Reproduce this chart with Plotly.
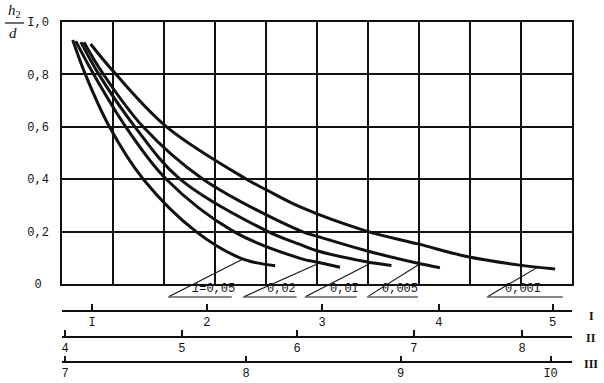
import numpy as np
import plotly.graph_objects as go

# ---------------- data ----------------
# x is measured in grid cells of the chart (0..10), y is h/d
slope_labels = ["<i>i</i>=0,05", "0,02", "0,0I", "0,005", "0,00I"]

x_005 = [0.21, 0.45, 0.93, 1.59, 2.63, 3.55, 4.18]
y_005 = [0.931, 0.804, 0.600, 0.401, 0.200, 0.095, 0.070]

x_002 = [0.27, 0.61, 1.25, 2.04, 3.37, 4.67, 5.06, 5.45]
y_002 = [0.927, 0.804, 0.600, 0.401, 0.200, 0.098, 0.081, 0.064]

x_001 = [0.37, 0.71, 1.43, 2.31, 4.04, 4.67, 5.00, 5.97, 6.46]
y_001 = [0.923, 0.804, 0.600, 0.401, 0.200, 0.151, 0.127, 0.085, 0.071]

x_0005 = [0.43, 0.80, 1.59, 2.76, 4.71, 5.06, 5.97, 6.98, 7.41]
y_0005 = [0.923, 0.804, 0.600, 0.401, 0.200, 0.179, 0.127, 0.079, 0.062]

x_0001 = [0.56, 1.04, 2.05, 3.61, 4.01, 4.67, 5.97, 6.98, 7.96, 8.94, 9.67]
y_0001 = [0.916, 0.804, 0.600, 0.401, 0.359, 0.294, 0.202, 0.153, 0.104, 0.073, 0.057]

y_tickvals = [0, 0.2, 0.4, 0.6, 0.8, 1.0]
y_ticktext = ["0\u00a0", "0,2", "0,4", "0,6", "0,8", "I,0"]

# bottom scales: tick labels and where they sit (in grid cells)
scale1_labels = ["I", "2", "3", "4", "5"]
scale1_pos = [0.59, 2.84, 5.10, 7.39, 9.62]
scale2_labels = ["4", "5", "6", "7", "8"]
scale2_pos = [0.06, 2.35, 4.61, 6.90, 9.02]
scale3_labels = ["7", "8", "9", "I0"]
scale3_pos = [0.06, 3.61, 6.64, 9.58]
scale_names = ["I", "II", "III"]

# ---------------- layout constants ----------------
W, H = 604, 383
INK = "#111111"
MONO = "Liberation Mono"

def px_x(p):
    return p / W

def px_y(p):
    return 1 - p / H

curves = [(x_005, y_005), (x_002, y_002), (x_001, y_001), (x_0005, y_0005), (x_0001, y_0001)]
touch_x = [3.55, 5.06, 6.08, 7.02, 9.33]     # where leader meets curve
tail_x = [2.08, 3.55, 4.76, 5.98, 8.33]      # left end of label underline
uline_end_x = [3.33, 4.60, 5.78, 6.98, 9.82] # right end of underline
text_x = [2.98, 4.31, 5.53, 6.63, 9.04]      # label centre
tail_y = -0.05
uline_py = 297
text_py = 289

fig = go.Figure()

for cx, cy in curves:
    fig.add_trace(go.Scatter(
        x=cx, y=cy, mode="lines",
        line=dict(color=INK, width=3, shape="spline", smoothing=1.0),
        hoverinfo="skip", showlegend=False))

# empty traces so the three bottom scale axes exist
for ax in ["x2", "x3", "x4"]:
    fig.add_trace(go.Scatter(x=[None], y=[None], xaxis=ax, yaxis="y",
                             showlegend=False, hoverinfo="skip"))

annotations = []
shapes = []
for i, (cx, cy) in enumerate(curves):
    ty = float(np.interp(touch_x[i], cx, cy))
    annotations.append(dict(
        x=touch_x[i], y=ty, xref="x", yref="y",
        ax=tail_x[i], ay=tail_y, axref="x", ayref="y",
        text="", showarrow=True, arrowhead=0, arrowwidth=1.1,
        arrowcolor=INK, standoff=0, startstandoff=0))
    annotations.append(dict(
        x=text_x[i], y=px_y(text_py), xref="x", yref="paper",
        text=slope_labels[i], showarrow=False,
        font=dict(family=MONO, size=12, color=INK),
        xanchor="center", yanchor="middle"))
    shapes.append(dict(
        type="line", xref="x", yref="paper",
        x0=tail_x[i], x1=uline_end_x[i],
        y0=px_y(uline_py), y1=px_y(uline_py),
        line=dict(color=INK, width=1.2)))

# scale names on the right
for name, py in zip(scale_names, [316, 338, 364]):
    annotations.append(dict(
        x=px_x(591), y=px_y(py), xref="paper", yref="paper",
        text="<b>" + name + "</b>", showarrow=False,
        font=dict(family="Liberation Serif", size=12, color=INK),
        xanchor="center", yanchor="middle"))

# y-axis title h2/d
annotations.append(dict(
    x=px_x(15), y=px_y(11), xref="paper", yref="paper",
    text="<i>h</i><sub>2</sub>", showarrow=False,
    font=dict(family="Liberation Serif", size=15, color=INK),
    xanchor="center", yanchor="middle"))
annotations.append(dict(
    x=px_x(13), y=px_y(33), xref="paper", yref="paper",
    text="<i>d</i>", showarrow=False,
    font=dict(family="Liberation Serif", size=15, color=INK),
    xanchor="center", yanchor="middle"))
shapes.append(dict(type="line", xref="paper", yref="paper",
                   x0=px_x(5), x1=px_x(24), y0=px_y(23), y1=px_y(23),
                   line=dict(color=INK, width=1.2)))

dom_x = [px_x(62), px_x(572)]
dom_y = [px_y(284), px_y(22)]

def scale_axis(pos, labels, py):
    return dict(
        overlaying="x", anchor="free", position=px_y(py),
        range=[0, 10], tickmode="array", tickvals=pos, ticktext=labels,
        ticks="inside", ticklen=6, tickwidth=1.5, tickcolor=INK,
        showline=True, linecolor=INK, linewidth=1.5,
        showgrid=False, zeroline=False,
        tickfont=dict(family=MONO, size=12, color=INK))

fig.update_layout(
    width=W, height=H,
    margin=dict(l=0, r=0, t=0, b=0, autoexpand=False),
    paper_bgcolor="white", plot_bgcolor="white",
    showlegend=False,
    xaxis=dict(domain=dom_x, range=[0, 10], tick0=0, dtick=1,
               showgrid=True, gridcolor=INK, gridwidth=1.5,
               showline=True, mirror=True, linecolor=INK, linewidth=1.5,
               showticklabels=False, ticks="", zeroline=False),
    yaxis=dict(domain=dom_y, range=[0, 1.0], tickmode="array",
               tickvals=y_tickvals, ticktext=y_ticktext,
               showgrid=True, gridcolor=INK, gridwidth=1.5,
               showline=True, mirror=True, linecolor=INK, linewidth=1.5,
               ticks="", ticklabelstandoff=9, zeroline=False,
               tickfont=dict(family=MONO, size=12, color=INK)),
    xaxis2=scale_axis(scale1_pos, scale1_labels, 310.5),
    xaxis3=scale_axis(scale2_pos, scale2_labels, 336.5),
    xaxis4=scale_axis(scale3_pos, scale3_labels, 362.3),
    annotations=annotations,
    shapes=shapes,
)

fig.write_html("out.html",
               config={"displayModeBar": False},
               post_script="document.body.style.margin='0px';"
                           "document.body.style.overflow='hidden';")
